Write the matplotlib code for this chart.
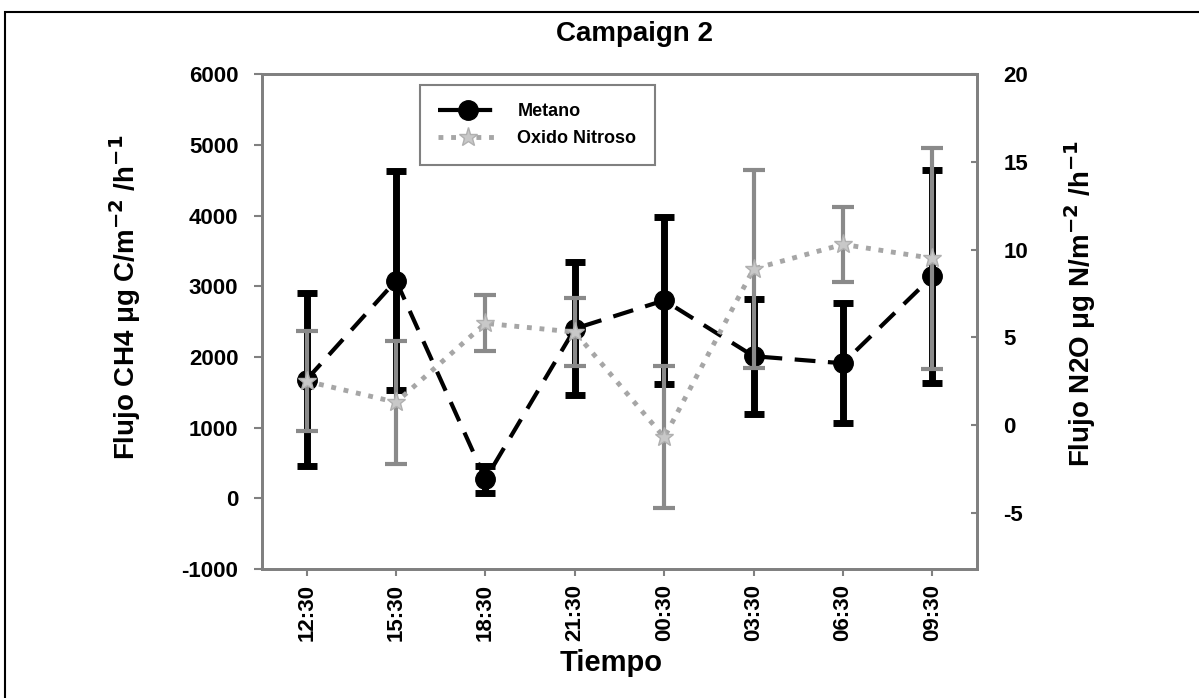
import numpy as np
import matplotlib.pyplot as plt
from matplotlib.lines import Line2D
from matplotlib.patches import Rectangle

plt.rcParams['font.family'] = ['Liberation Sans', 'DejaVu Sans']
plt.rcParams['font.weight'] = 'bold'
plt.rcParams['axes.labelweight'] = 'bold'
plt.rcParams['mathtext.default'] = 'bf'
plt.rcParams['axes.unicode_minus'] = False

times = ["12:30", "15:30", "18:30", "21:30", "00:30", "03:30", "06:30", "09:30"]
ch4 = [1680, 3080, 270, 2400, 2800, 2010, 1910, 3140]
ch4_err = [1220, 1550, 190, 940, 1180, 815, 850, 1510]
n2o = [2.5, 1.3, 5.8, 5.3, -0.7, 8.9, 10.3, 9.5]
n2o_err = [2.85, 3.5, 1.6, 1.95, 4.05, 5.65, 2.15, 6.3]

GREY_SPINE = "#808080"
GREY_BAR = "#8a8a8a"
GREY_LINE = "#a6a6a6"

fig = plt.figure(figsize=(11.99, 6.98), dpi=100)
# outer frame of the original figure
fig.patches.append(Rectangle((5 / 1199, -0.05), 1.0, 1 - 12 / 698 + 0.05,
                             transform=fig.transFigure, fill=False,
                             edgecolor="black", linewidth=1.5))

ax = fig.add_axes([0.2185, 0.1848, 0.5964, 0.709])
x = np.arange(len(times))

ax.errorbar(x, ch4, yerr=ch4_err, fmt="none", ecolor="black", elinewidth=5,
            capsize=7, capthick=5, zorder=2)
ax.plot(x, ch4, color="black", linestyle=(0, (5, 3)), linewidth=3,
        marker="o", markersize=14, zorder=3)
ax.set_xlim(-0.5, 7.5)
ax.set_ylim(-1000, 6000)
ax.set_yticks(range(-1000, 6001, 1000))
ax.set_xticks(x)
ax.set_xticklabels(times, rotation=90, fontsize=16)
ax.tick_params(axis="y", labelsize=16, color=GREY_SPINE, length=6, width=1.5,
               pad=11)
ax.tick_params(axis="x", color=GREY_SPINE, length=5, width=1.5, pad=6)
for s in ax.spines.values():
    s.set_color(GREY_SPINE)
    s.set_linewidth(2)

ax2 = ax.twinx()
ax2.errorbar(x, n2o, yerr=n2o_err, fmt="none", ecolor=GREY_BAR, elinewidth=3,
             capsize=8, capthick=3, zorder=2)
ax2.plot(x, n2o, color=GREY_LINE, linestyle=(0, (1, 1.6)), linewidth=3.5,
         marker="*", markersize=14, markerfacecolor="#c8c8c8",
         markeredgecolor="#b0b0b0", zorder=3)
ax2.set_ylim(-8.2, 20)
ax2.set_yticks(range(-5, 21, 5))
ax2.tick_params(axis="y", labelsize=16, color=GREY_SPINE, length=4, width=1.5,
                direction="in", pad=19)
for s in ax2.spines.values():
    s.set_color(GREY_SPINE)
    s.set_linewidth(2)

ax.set_ylabel("Flujo CH4 μg C/m$^{-2}$ /h$^{-1}$", fontsize=20,
              fontweight="bold")
ax.yaxis.set_label_coords(-0.166, 0.548)
ax2.set_ylabel("Flujo N2O μg N/m$^{-2}$ /h$^{-1}$", fontsize=20,
               fontweight="bold")
ax2.yaxis.set_label_coords(1.119, 0.537)
ax.set_xlabel("Tiempo", fontsize=21, fontweight="bold")
ax.xaxis.set_label_coords(0.488, -0.162)
fig.text(635 / 1199, 1 - 41 / 698, "Campaign 2", ha="center",
         va="baseline", fontsize=20, fontweight="bold")

handles = [
    Line2D([], [], color="black", linestyle=(0, (5, 3)), linewidth=3,
           marker="o", markersize=14),
    Line2D([], [], color=GREY_LINE, linestyle=(0, (1, 1.6)), linewidth=3.5,
           marker="*", markersize=14, markerfacecolor="#c8c8c8",
           markeredgecolor="#b0b0b0"),
]
leg = ax2.legend(handles, ["Metano", "Oxido Nitroso"], loc="upper left",
                 bbox_to_anchor=((420 - 262) / 715, (569 - 85) / 495),
                 fontsize=13, fancybox=False, edgecolor=GREY_SPINE,
                 framealpha=1, borderpad=1.0, handlelength=3.3,
                 handletextpad=1.1, labelspacing=0.55, borderaxespad=0)
leg.get_frame().set_linewidth(1.5)

fig.savefig("out.png", dpi=100)
